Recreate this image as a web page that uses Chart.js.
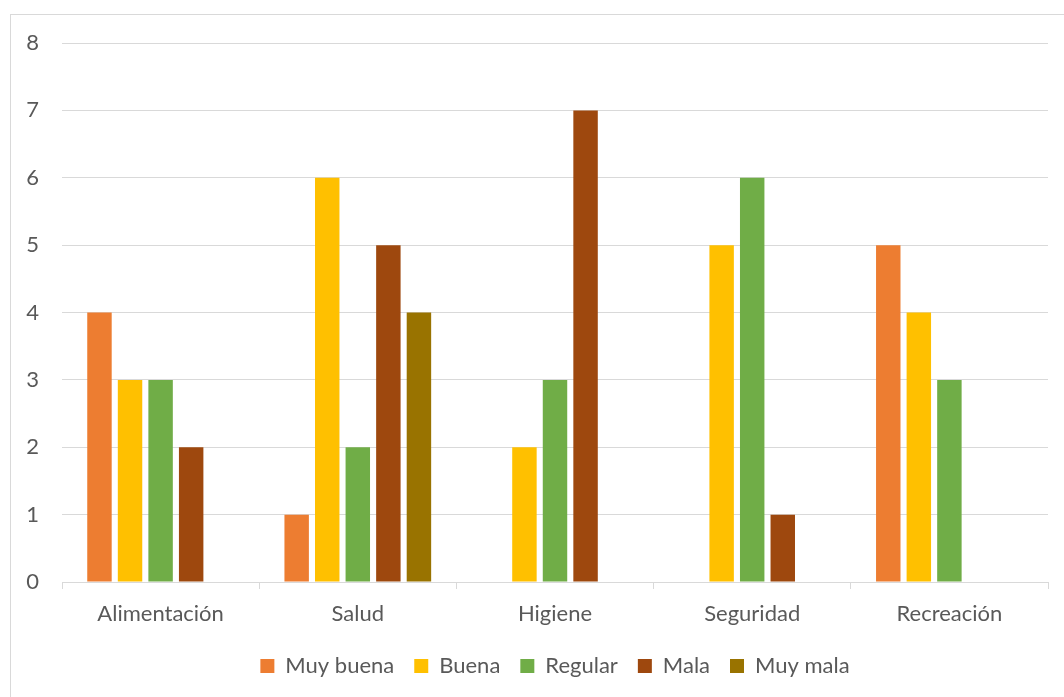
<!DOCTYPE html>
<html>
<head>
<meta charset="utf-8">
<script src="https://cdn.jsdelivr.net/npm/chart.js@4/dist/chart.umd.min.js"></script>
<style>
  body { margin: 0; background: #fff; }
  #marco { position: absolute; left: 10px; top: 14px; width: 1070px; height: 700px; border: 1px solid #d9d9d9; }
  #grafico { position: absolute; left: 0; top: 0; }
</style>
</head>
<body>
<div id="marco"></div>
<canvas id="grafico" width="1064" height="697"></canvas>
<script>
// datos
const categorias = ['Alimentación', 'Salud', 'Higiene', 'Seguridad', 'Recreación'];
const muyBuena = [4, 1, 0, 0, 5];
const buena = [3, 6, 2, 5, 4];
const regular = [3, 2, 3, 6, 3];
const mala = [2, 5, 7, 1, 0];
const muyMala = [0, 4, 0, 0, 0];
const ticksY = [0, 1, 2, 3, 4, 5, 6, 7, 8];

const fuente = "Lato, 'Open Sans', sans-serif";
const gris = '#595959';

function serie(nombre, datos, color) {
    return {
        label: nombre,
        data: datos,
        backgroundColor: color,
        borderWidth: 0,
        categoryPercentage: 0.775,
        barPercentage: 0.8
    };
}

new Chart(document.getElementById('grafico'), {
    type: 'bar',
    data: {
        labels: categorias,
        datasets: [
            serie('Muy buena', muyBuena, '#ED7D31'),
            serie('Buena', buena, '#FFC000'),
            serie('Regular', regular, '#70AD47'),
            serie('Mala', mala, '#9E480E'),
            serie('Muy mala', muyMala, '#997300')
        ]
    },
    options: {
        responsive: false,
        animation: false,
        devicePixelRatio: 1,
        layout: { padding: { left: 0, right: 16, top: 43, bottom: 10 } },
        plugins: {
            tooltip: { enabled: false },
            legend: {
                position: 'bottom',
                fullSize: false,
                labels: {
                    boxWidth: 14,
                    boxHeight: 14,
                    padding: 20,
                    color: gris,
                    font: { family: fuente, size: 22 }
                }
            }
        },
        scales: {
            x: {
                grid: { display: true, drawOnChartArea: false, drawTicks: true, tickLength: 7, color: '#d9d9d9', offset: true },
                border: { display: true, color: '#d9d9d9', width: 1 },
                ticks: { color: gris, font: { family: fuente, size: 22 }, padding: 12 },
                afterFit: function(eje) { eje.height = 53; }
            },
            y: {
                min: 0,
                max: 8,
                afterBuildTicks: function(eje) { eje.ticks = ticksY.map(v => ({ value: v })); },
                grid: { color: '#d9d9d9', drawTicks: false },
                border: { display: false },
                ticks: { color: gris, font: { family: fuente, size: 22 }, padding: 23 },
                afterFit: function(eje) { eje.width = 62; }
            }
        }
    }
});
</script>
</body>
</html>
